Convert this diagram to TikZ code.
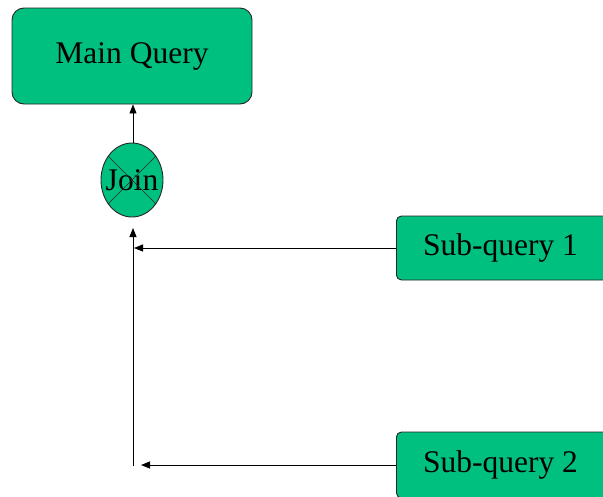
\documentclass[tikz,border=0pt]{standalone}
\usepackage{fontspec}
\setmainfont{Liberation Serif}
\usetikzlibrary{shapes.geometric,arrows.meta}
\definecolor{qgreen}{RGB}{0,192,128}
\tikzset{
  box/.style={draw=black!85, line width=0.9pt, fill=qgreen, inner sep=0pt, font=\fontsize{31.5}{36}\selectfont},
  arr/.style={-{Triangle[width=7pt,length=9pt]}, line width=0.9pt},
  conn/.style={line width=0.9pt}
}
\begin{document}
\begin{tikzpicture}[x=1pt,y=-1pt]
\clip (0,0) rectangle (603,496);
\useasboundingbox (0,0) rectangle (603,496);
\node[box, rounded corners=12pt, minimum width=240pt, minimum height=96pt] (main) at (132,56) {Main Query};
\node[box, ellipse, minimum width=62pt, minimum height=74pt] (join) at (132,180) {\makebox[0pt]{Join}};
\draw[line width=0.6pt, black!85] (join.45) -- (join.225) (join.135) -- (join.315);
\node[box, rounded corners=5pt, minimum width=216pt, minimum height=64pt, anchor=west] (sq1) at (396,248) {\hspace*{-8pt}Sub-query 1};
\node[box, rounded corners=5pt, minimum width=216pt, minimum height=66pt, anchor=west] (sq2) at (396,465) {\hspace*{-8pt}Sub-query 2};
\coordinate (bot) at (133,466);
\coordinate (top) at (133,228);
\coordinate (j1) at (134,248);
\coordinate (j2) at (141,465);
\draw[arr] (join.north -| 133,0) -- (main.south -| 133,0);
\draw[arr] (bot) -- (top);
\draw[arr] (sq1.west) -- (j1);
\draw[arr] (sq2.west) -- (j2);
\end{tikzpicture}
\end{document}
